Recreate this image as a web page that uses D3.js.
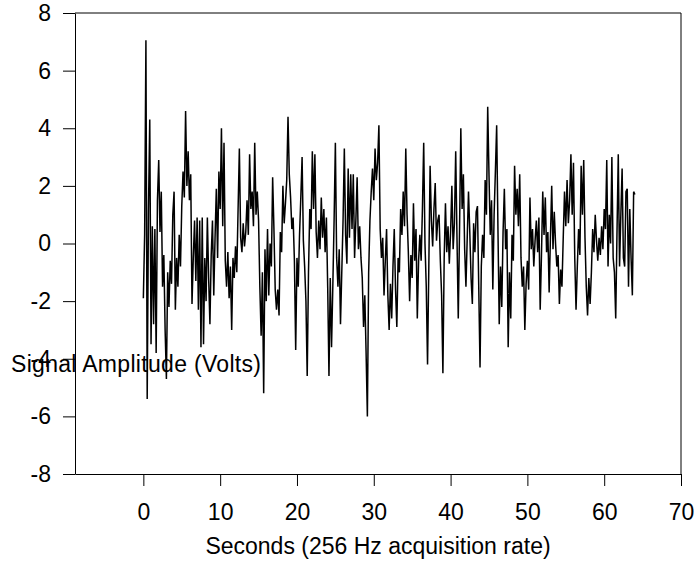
<!DOCTYPE html>
<html><head><meta charset="utf-8">
<script src="https://cdn.jsdelivr.net/npm/d3@7"></script>
<style>body{margin:0;background:#fff} svg{display:block} text{font-family:"Liberation Sans",Arial,Helvetica,sans-serif;fill:#000}</style>
</head><body><svg id="c" width="694" height="575"></svg>
<script>
// read samples, 6 per second, t = 0 .. 64 s
const samplesPerSecond = 6;
const amplitude = [
 -1.9,0.3,7.05,-5.4,1.2,4.3,-3.5,0.6,-2.8,0.5,-3.8,1.5,2.9,0.4,1.8,-1.5,-0.4,-3.0,-4.7,-1.0,
 -2.2,-0.6,-1.4,1.0,1.8,-2.3,-0.5,-1.5,0.3,-0.8,1.3,2.5,1.6,4.6,2.0,3.2,1.5,2.4,-2.1,-0.5,
 0.8,-1.3,0.9,-2.3,0.8,
 -3.6,0.9,-3.5,-0.5,-2.0,0.9,-1.2,-2.8,-0.4,0.8,-1.8,0.2,1.9,-0.5,2.5,1.2,4.0,0.6,3.5,-0.6,
 -1.5,-0.3,-1.9,-0.8,-3.0,-0.5,-1.2,-0.1,-1.0,1.2,3.3,0.2,-0.3,0.7,-0.1,0.4,1.5,0.3,3.1,1.2,
 1.8,0.6,3.5,1.0,1.8,0.8,-1.5,-3.2,
 -1.0,-5.2,-0.2,-2.0,0.5,-1.8,0.0,-0.8,2.3,0.5,-1.6,-2.3,-1.6,-2.5,0.4,-0.3,2.0,0.7,1.4,2.2,
 4.4,2.4,1.6,0.5,0.9,-0.6,-3.7,-0.5,-1.5,0.3,1.6,3.0,0.1,-0.8,-2.0,-4.6,-1.0,1.2,0.5,3.2,
 1.2,3.1,0.4,-0.5,0.8,-0.2,1.6,0.2,1.2,
 -0.3,0.9,-1.5,-4.6,-1.2,-3.6,-1.5,0.8,3.5,-0.5,-1.5,-0.2,-2.8,-1.0,0.8,3.3,0.3,-0.7,2.6,0.2,
 2.4,0.5,2.4,-0.5,0.8,2.3,-0.2,0.6,-0.5,-1.2,-2.9,-1.8,-3.8,-6.0,-1.0,0.8,1.8,2.6,1.5,3.3,
 2.2,2.8,4.1,0.5,-0.5,0.2,-1.8,-0.6,
 0.5,-1.8,-3.0,-1.4,-2.6,-0.8,0.5,-1.6,-2.9,-0.5,-1.0,1.2,0.3,1.8,0.6,3.3,1.0,-0.3,-2.0,-0.4,
 -1.2,1.4,-0.6,0.5,-2.6,-0.6,0.3,-0.6,1.2,3.5,0.0,-1.5,-4.2,-0.8,2.7,0.8,-0.1,1.2,2.1,0.1,
 0.8,1.0,-0.6,-1.8,-4.5,-0.5,1.4,-0.3,0.6,
 -0.7,0.4,2.0,-0.2,0.7,3.2,0.2,-2.6,0.5,4.0,1.2,2.4,-0.2,-1.5,0.2,1.8,0.4,-1.2,-2.1,0.7,
 -0.3,1.1,1.3,-1.5,-4.3,-0.8,0.3,-0.5,2.2,1.0,4.75,2.4,0.3,1.5,-1.6,1.0,2.5,4.1,0.5,-2.8,
 -0.8,-2.2,0.4,1.9,-0.2,0.5,-3.6,-1.0,
 -2.6,0.3,-0.6,2.7,1.0,1.9,0.6,2.4,-0.5,-1.5,-0.8,-3.0,-1.4,-0.6,-1.6,1.6,-0.2,0.5,-0.8,0.1,
 0.8,-0.3,0.9,-2.3,-0.4,1.8,0.3,1.6,-0.3,0.4,-1.7,0.2,2.0,-0.2,1.1,0.0,-0.8,-0.4,-2.1,-0.9,
 -1.5,0.2,1.8,0.6,2.2,0.7,1.5,3.1,1.0,
 2.8,-0.5,-2.3,-0.8,0.5,-0.4,2.7,1.0,2.9,0.2,-1.5,-2.5,-1.2,-2.1,-1.0,0.5,-0.3,1.0,0.1,-0.6,
 0.2,-0.4,0.6,-0.2,1.2,0.5,2.9,-0.8,1.0,0.0,3.0,-0.5,-1.0,-2.6,0.4,3.1,-0.8,1.0,2.6,-0.5,
 -0.8,1.8,1.9,-1.5,1.2,-0.5,-1.8,1.8,1.7
];
const xTicks = [0, 10, 20, 30, 40, 50, 60, 70];
const yTicks = [-8, -6, -4, -2, 0, 2, 4, 6, 8];
const xDomain = [-8.9, 70];
const yDomain = [-8, 8];
const xTitle = "Seconds (256 Hz acquisition rate)";
const yTitle = "Signal Amplitude (Volts)";

const W = 694, H = 575;
const m = {top: 13, right: 13, bottom: 101, left: 75};
const svg = d3.select("#c");
const x = d3.scaleLinear().domain(xDomain).range([m.left, W - m.right]);
const y = d3.scaleLinear().domain(yDomain).range([H - m.bottom, m.top]);

const pts = amplitude.map((v, i) => [i / samplesPerSecond, v]);

svg.append("path")
  .datum(pts)
  .attr("fill", "none")
  .attr("stroke", "#000")
  .attr("stroke-width", 1.5)
  .attr("stroke-linejoin", "miter")
  .attr("d", d3.line().x(d => x(d[0])).y(d => y(d[1])));

// frame
svg.append("line").attr("x1", x(xDomain[0])).attr("x2", x(xDomain[1]))
  .attr("y1", y(yDomain[1])).attr("y2", y(yDomain[1])).attr("stroke", "#000");
svg.append("line").attr("x1", x(xDomain[1])).attr("x2", x(xDomain[1]))
  .attr("y1", y(yDomain[1])).attr("y2", y(yDomain[0])).attr("stroke", "#000");

const fs = 23;
const gx = svg.append("g").attr("transform", `translate(0,${y(yDomain[0])})`)
  .call(d3.axisBottom(x).tickValues(xTicks).tickSize(12).tickSizeOuter(0).tickPadding(18).tickFormat(d3.format("d")));
const gy = svg.append("g").attr("transform", `translate(${x(xDomain[0])},0)`)
  .call(d3.axisLeft(y).tickValues(yTicks).tickSize(12).tickSizeOuter(0).tickPadding(12).tickFormat(d => d < 0 ? "-" + Math.abs(d) : String(d)));
[gx, gy].forEach(g => {
  g.selectAll("path,line").attr("stroke", "#000").attr("stroke-width", 1);
  g.selectAll("text").attr("font-size", fs).attr("fill", "#000")
    .style("font-family", '"Liberation Sans", Arial, sans-serif');
});

svg.append("text").attr("x", (x(xDomain[0]) + x(xDomain[1])) / 2).attr("y", 554)
  .attr("text-anchor", "middle").attr("font-size", fs).text(xTitle);
svg.append("text").attr("x", 11).attr("y", 372)
  .attr("text-anchor", "start").attr("font-size", fs).attr("textLength", 250).text(yTitle);
</script></body></html>
